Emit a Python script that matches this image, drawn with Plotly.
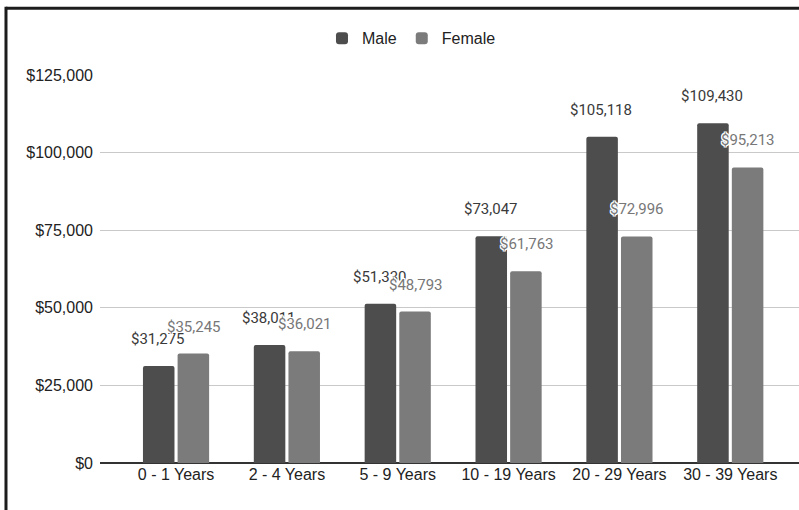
import plotly.graph_objects as go

# Average pay by years of experience, split by gender
categories = ["0 - 1 Years", "2 - 4 Years", "5 - 9 Years",
              "10 - 19 Years", "20 - 29 Years", "30 - 39 Years"]
male_pay = [31275, 38011, 51330, 73047, 105118, 109430]
female_pay = [35245, 36021, 48793, 61763, 72996, 95213]
y_ticks = [0, 25000, 50000, 75000, 100000, 125000]
y_tick_labels = [f"${v:,}" for v in y_ticks]

MALE_COLOR = "#4d4d4d"
FEMALE_COLOR = "#7b7b7b"
AXIS_FONT = "Liberation Sans, Arial, sans-serif"
LABEL_FONT = "Roboto, sans-serif"

fig = go.Figure()
fig.add_trace(go.Bar(name="Male", x=categories, y=male_pay,
                     marker=dict(color=MALE_COLOR, cornerradius=2, line=dict(width=0))))
fig.add_trace(go.Bar(name="Female", x=categories, y=female_pay,
                     marker=dict(color=FEMALE_COLOR, cornerradius=2, line=dict(width=0))))

# value labels floating above each bar
halo = ("-1px -1px 0 #fff, 1px -1px 0 #fff, -1px 1px 0 #fff, 1px 1px 0 #fff, "
        "0 -1px 0 #fff, 0 1px 0 #fff, -1px 0 0 #fff, 1px 0 0 #fff")
annotations = []
for cat, v in zip(categories, male_pay):
    annotations.append(dict(x=cat, y=v, xref="x", yref="y", text=f"${v:,}",
                            showarrow=False, xshift=-18, yshift=27,
                            font=dict(family=LABEL_FONT, size=15, color="#3a3a3a")))
for cat, v in zip(categories, female_pay):
    annotations.append(dict(x=cat, y=v, xref="x", yref="y", text=f"${v:,}",
                            showarrow=False, xshift=18, yshift=27,
                            font=dict(family=LABEL_FONT, size=15, color="#777777",
                                      shadow=halo)))

# frame lines along the top and left edges
shapes = [
    dict(type="line", xref="paper", yref="paper", x0=-0.1345, x1=1.01, y0=1.172, y1=1.172,
         line=dict(color="#1c1c1c", width=3)),
    dict(type="line", xref="paper", yref="paper", x0=-0.1345, x1=-0.1345, y0=1.176, y1=-0.15,
         line=dict(color="#1c1c1c", width=3)),
]

fig.update_layout(
    width=799, height=510,
    margin=dict(l=100, r=0, t=75, b=47),
    paper_bgcolor="white", plot_bgcolor="white",
    barmode="group", bargap=0.375, bargroupgap=0.09,
    showlegend=True,
    legend=dict(orientation="h", xref="container", yref="container",
                x=0.515, y=0.925, xanchor="center", yanchor="middle",
                font=dict(family=AXIS_FONT, size=16, color="#222222"),
                itemclick=False),
    xaxis=dict(range=[-0.686, 5.62], showgrid=False, showline=False,
               ticks="", tickfont=dict(family=AXIS_FONT, size=16, color="#222222")),
    yaxis=dict(range=[0, 125000], tickmode="array", tickvals=y_ticks, ticktext=y_tick_labels,
               showgrid=True, gridcolor="#c9c9c9", gridwidth=1,
               zeroline=True, zerolinecolor="#333333", zerolinewidth=2,
               showline=False, ticks="", ticklabelstandoff=6,
               tickfont=dict(family=AXIS_FONT, size=16, color="#222222")),
    annotations=annotations,
    shapes=shapes,
)

fig.write_html("out.html")
